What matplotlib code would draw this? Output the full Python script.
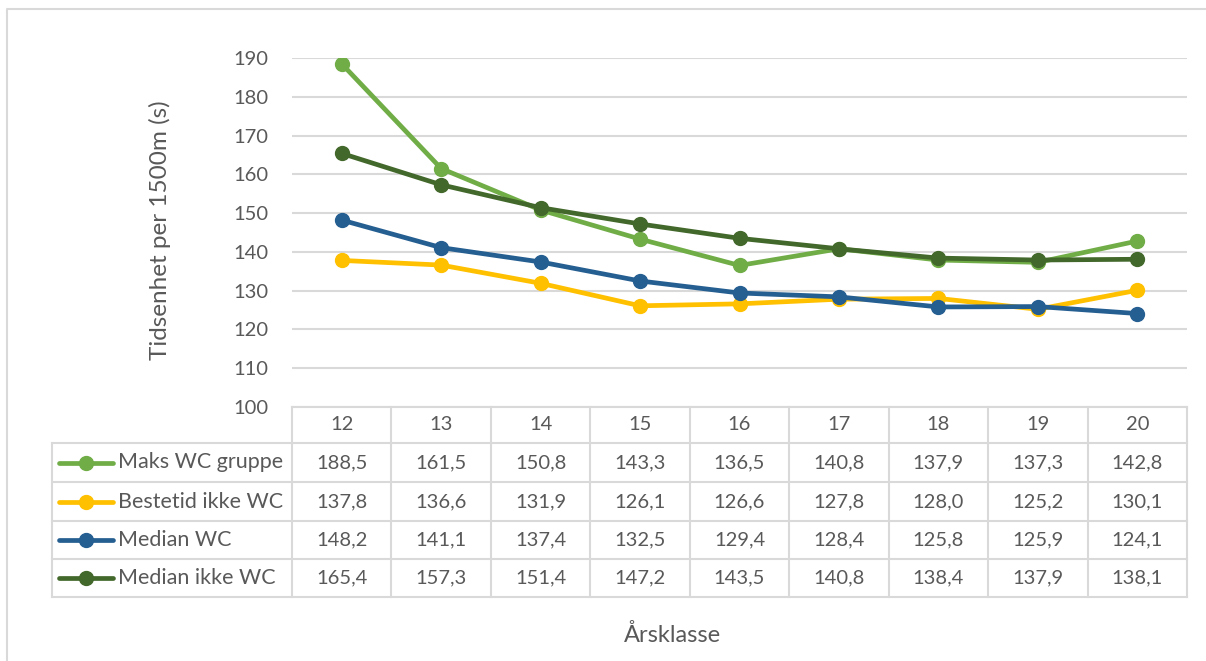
import matplotlib
matplotlib.use("Agg")
import matplotlib.pyplot as plt
from matplotlib.lines import Line2D

# ── Data ──────────────────────────────────────────────────────────────────────
years = ["12", "13", "14", "15", "16", "17", "18", "19", "20"]
series_names = ["Maks WC gruppe", "Bestetid ikke WC", "Median WC", "Median ikke WC"]
maks_wc_gruppe = [188.5, 161.5, 150.8, 143.3, 136.5, 140.8, 137.9, 137.3, 142.8]
bestetid_ikke_wc = [137.8, 136.6, 131.9, 126.1, 126.6, 127.8, 128.0, 125.2, 130.1]
median_wc = [148.2, 141.1, 137.4, 132.5, 129.4, 128.4, 125.8, 125.9, 124.1]
median_ikke_wc = [165.4, 157.3, 151.4, 147.2, 143.5, 140.8, 138.4, 137.9, 138.1]
y_ticks = [100, 110, 120, 130, 140, 150, 160, 170, 180, 190]

colors = ["#70AD47", "#FFC000", "#255E91", "#43682B"]
TXT = "#595959"
GRID = "#D9D9D9"

plt.rcParams["font.family"] = ["Lato", "DejaVu Sans"]

W, H = 1206, 661
fig = plt.figure(figsize=(W / 100, H / 100), dpi=100)


def fx(px):
    return px / W


def fy(py):
    return 1 - py / H


# plot area
left, right, top, bottom = 292, 1187, 58, 407
ax = fig.add_axes([fx(left), fy(bottom), fx(right) - fx(left), fy(top) - fy(bottom)])
ax.set_xlim(-0.5, len(years) - 0.5)
ax.set_ylim(100, 190)
ax.set_yticks(y_ticks)
ax.set_xticks([])
ax.grid(axis="y", color=GRID, lw=1.5)
ax.set_axisbelow(True)
for s in ax.spines.values():
    s.set_visible(False)
ax.tick_params(axis="y", length=0, pad=17, labelsize=14.5, labelcolor=TXT)

all_series = [maks_wc_gruppe, bestetid_ikke_wc, median_wc, median_ikke_wc]
x = list(range(len(years)))
for vals, c in zip(all_series, colors):
    ax.plot(x, vals, color=c, lw=3.4, marker="o", ms=10, solid_capstyle="round")

fig.text(fx(160), fy(230), "Tidsenhet per 1500m (s)", rotation=90, ha="center",
         va="center", fontsize=17.5, color=TXT)

# ── data table ────────────────────────────────────────────────────────────────
tbl_left = 52
rows_y = [407, 443, 482, 521, 559, 597]
col_w = (right - left) / len(years)
col_x = [left + i * col_w for i in range(len(years) + 1)]


def hline(x0, x1, y):
    fig.add_artist(Line2D([fx(x0), fx(x1)], [fy(y), fy(y)], color=GRID, lw=1.5))


def vline(x0, y0, y1):
    fig.add_artist(Line2D([fx(x0), fx(x0)], [fy(y0), fy(y1)], color=GRID, lw=1.5))


hline(left, right, rows_y[0])
for y in rows_y[1:]:
    hline(tbl_left, right, y)
vline(tbl_left, rows_y[1], rows_y[-1])
for cx in col_x:
    vline(cx, rows_y[0], rows_y[-1])

for i, yr in enumerate(years):
    cx = (col_x[i] + col_x[i + 1]) / 2
    fig.text(fx(cx), fy((rows_y[0] + rows_y[1]) / 2), yr, ha="center", va="center",
             fontsize=14.5, color=TXT)

for r, (name, vals, c) in enumerate(zip(series_names, all_series, colors)):
    cy = (rows_y[r + 1] + rows_y[r + 2]) / 2
    fig.add_artist(Line2D([fx(59), fx(113)], [fy(cy), fy(cy)], color=c, lw=3.4,
                          solid_capstyle="round"))
    fig.add_artist(Line2D([fx(86)], [fy(cy)], color=c, marker="o", ms=10, lw=0))
    fig.text(fx(118), fy(cy), name, ha="left", va="center", fontsize=15.5, color=TXT)
    for i, v in enumerate(vals):
        cx = (col_x[i] + col_x[i + 1]) / 2
        fig.text(fx(cx), fy(cy), f"{v:.1f}".replace(".", ","), ha="center", va="center",
                 fontsize=14.5, color=TXT)

fig.text(fx(673), fy(635), "Årsklasse", ha="center", va="center", fontsize=17, color=TXT)

# outer chart frame (only left/top visible in the crop)
fig.add_artist(Line2D([fx(7), fx(7), fx(W + 5)], [fy(H + 5), fy(9), fy(9)],
                      color=GRID, lw=1.5))

fig.savefig("out.png", dpi=100)
